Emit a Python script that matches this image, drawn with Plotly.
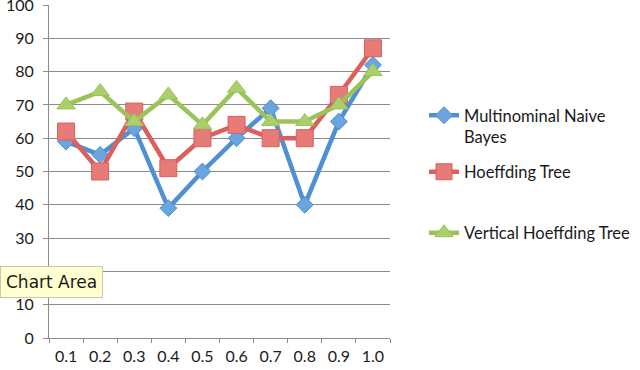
import plotly.graph_objects as go

categories = ["0.1", "0.2", "0.3", "0.4", "0.5", "0.6", "0.7", "0.8", "0.9", "1.0"]
mnb = [59, 55, 63, 39, 50, 60, 69, 40, 65, 82]
ht = [62, 50, 68, 51, 60, 64, 60, 60, 73, 87]
vht = [70, 74, 65, 73, 64, 75, 65, 65, 70, 80]

names = ["Multinominal Naive<br>Bayes", "Hoeffding Tree", "Vertical Hoeffding Tree"]
colors = ["#4f8fd3", "#d9605c", "#9cc35a"]
fills = ["#6aa5e0", "#e77b77", "#abd06b"]
symbols = ["diamond", "square", "triangle-up"]
sizes = [13, 17, 16]
series = [mnb, ht, vht]
legends = ["legend", "legend2", "legend3"]

fig = go.Figure()
for s, n, c, f, sym, sz, lg in zip(series, names, colors, fills, symbols, sizes, legends):
    fig.add_trace(go.Scatter(
        x=categories, y=s, name=n, mode="lines+markers",
        line=dict(color=c, width=4.5),
        marker=dict(symbol=sym, size=sz, color=f, line=dict(color=c, width=1)),
        legend=lg, showlegend=True,
    ))

font = dict(family="Lato, Open Sans, sans-serif", size=16, color="#1a1a1a")
legend_font = dict(family="Lato, Open Sans, sans-serif", size=16.5, color="#1a1a1a")
legend_common = dict(x=(424 - 49) / 342, xanchor="left", bgcolor="rgba(0,0,0,0)",
                     font=legend_font, itemwidth=30, valign="top")
fig.update_layout(
    width=640, height=370,
    margin=dict(l=49, r=249, t=5, b=32),
    paper_bgcolor="white", plot_bgcolor="white",
    font=font,
    showlegend=True,
    legend=dict(**legend_common, y=(338 - 98) / 333, yanchor="top"),
    legend2=dict(**legend_common, y=(338 - 172) / 333, yanchor="middle"),
    legend3=dict(**legend_common, y=(338 - 233) / 333, yanchor="middle"),
    xaxis=dict(
        type="category", range=[-0.5, 9.5], showgrid=False, showline=True,
        linecolor="#8c8c8c", linewidth=1,
        ticks="outside", tickson="boundaries", ticklen=4, tickcolor="#8c8c8c",
        tickfont=font, ticklabelstandoff=4,
    ),
    yaxis=dict(
        range=[0, 100], dtick=10, showgrid=True, gridcolor="#8c8c8c", gridwidth=1,
        showline=True, linecolor="#8c8c8c", linewidth=1, zeroline=False,
        ticks="outside", ticklen=5, tickcolor="#8c8c8c", tickfont=font,
        ticklabelstandoff=6, ticklabeloverflow="allow", automargin=False,
    ),
    annotations=[dict(
        text="Chart Area", xref="paper", yref="paper",
        x=-49 / 342, y=(338 - 282) / 333, xanchor="left", yanchor="middle",
        showarrow=False, bgcolor="#ffffd2", bordercolor="#c9c9a8", borderwidth=1,
        borderpad=5, font=dict(family="DejaVu Sans, sans-serif", size=17, color="#1a1a1a"),
    )],
)

fig.write_html("out.html", config={"displayModeBar": False},
               post_script="document.body.style.margin='0';")
